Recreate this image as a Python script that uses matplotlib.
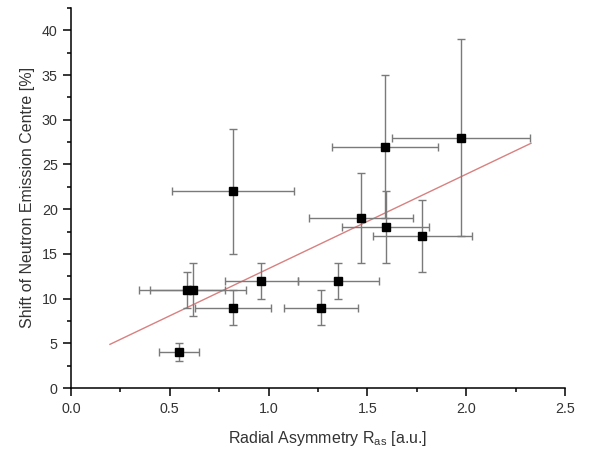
import matplotlib
matplotlib.use("Agg")
import matplotlib.pyplot as plt
from matplotlib.ticker import MultipleLocator, FormatStrFormatter

plt.rcParams['font.family'] = ['Liberation Sans', 'DejaVu Sans']
plt.rcParams['mathtext.fontset'] = 'custom'
plt.rcParams['mathtext.rm'] = 'Liberation Sans'
plt.rcParams['mathtext.it'] = 'Liberation Sans'

# data
x_vals = [0.821, 1.468, 1.592, 1.589, 1.975, 1.778, 0.963, 1.353, 0.589, 0.616, 0.820, 1.263, 0.547]
y_vals = [22, 19, 18, 27, 28, 17, 12, 12, 11, 11, 9, 9, 4]
x_errs = [0.31, 0.265, 0.22, 0.27, 0.35, 0.25, 0.185, 0.205, 0.19, 0.27, 0.19, 0.187, 0.10]
y_errs = [7, 5, 4, 8, 11, 4, 2, 2, 2, 3, 2, 2, 1]

fit_x = [0.197, 2.328]
fit_y = [4.88, 27.37]

x_label = 'Radial Asymmetry R$_{\\mathrm{as}}$ [a.u.]'
y_label = 'Shift of Neutron Emission Centre [%]'

W, H = 605, 451
fig = plt.figure(figsize=(W/100, H/100), dpi=100)
ax = fig.add_axes([71/W, 1-388/H, (565-71)/W, (388-8)/H])

ax.plot(fit_x, fit_y, color='#d98080', lw=1.0, zorder=2)
ax.errorbar(x_vals, y_vals, xerr=x_errs, yerr=y_errs, fmt='s', color='black',
            markersize=5.8, ecolor='#7a7a7a', elinewidth=1.0, capsize=2.6,
            capthick=1.0, zorder=3)

ax.set_xlim(0, 2.5)
ax.set_ylim(0, 42.5)
ax.spines['top'].set_visible(False)
ax.spines['right'].set_visible(False)
for s in ('left', 'bottom'):
    ax.spines[s].set_linewidth(1.1)
ax.xaxis.set_major_locator(MultipleLocator(0.5))
ax.xaxis.set_minor_locator(MultipleLocator(0.25))
ax.yaxis.set_major_locator(MultipleLocator(5))
ax.yaxis.set_minor_locator(MultipleLocator(2.5))
ax.xaxis.set_major_formatter(FormatStrFormatter('%.1f'))
ax.tick_params(which='major', direction='out', length=5.5, width=1.1, labelsize=10.3,
               colors='black', labelcolor='#333333')
ax.tick_params(axis='x', which='major', pad=4.5)
ax.tick_params(axis='y', which='major', pad=4.0)
ax.tick_params(which='minor', direction='out', length=3, width=1.1)

fig.text(328/W, 1-443/H, x_label, ha='center', va='baseline', fontsize=11.5, color='#333333')
fig.text(35/W, 1-197/H, y_label, ha='right', va='center', rotation=90, fontsize=11.5, color='#333333')

fig.savefig('out.png', dpi=100)
